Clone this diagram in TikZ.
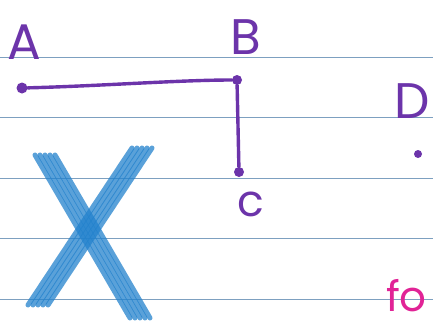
\documentclass[tikz,border=0pt]{standalone}
\usepackage{fontspec}
\setmainfont{Poppins}
\definecolor{penpurple}{RGB}{108,52,170}
\definecolor{penblue}{RGB}{35,130,205}
\definecolor{penpink}{RGB}{225,35,150}
\definecolor{ruled}{RGB}{125,160,192}
\tikzset{
  dot/.style={circle,fill=penpurple,inner sep=0pt,minimum size=11pt},
  label/.style={text=penpurple,font=\fontsize{50}{50}\selectfont,inner sep=0pt},
  pen/.style={draw=penpurple,line width=3.4pt,line cap=round},
  cross/.style={draw=penblue,line cap=round,line width=5pt,opacity=0.75}
}
\begin{document}
\begin{tikzpicture}[x=1pt,y=-1pt]
                \useasboundingbox (0,0) rectangle (433,329);
                \fill[white] (0,0) rectangle (433,329);
                % ruled lines of the page
                \foreach \y in {57,117,178,238,299}
                    \draw[ruled,line width=1pt] (0,\y) -- (433,\y);

                \node[dot] (a) at (22,88) {};
                \node[dot,minimum size=10pt] (b) at (237,80) {};
                \node[dot,minimum size=10pt] (c) at (239,172) {};
                \node[dot,minimum size=8pt] (d) at (418,154) {};

                \node[label] (la) at (24,42) {A};
                \node[label] (lb) at (246,37) {B};
                \node[label,font=\fontsize{44}{44}\selectfont] (lc) at (251,204) {c};
                \node[label,anchor=east] (ld) at (430,101) {D};
                \node[text=penpink,font=\fontsize{42}{42}\selectfont,inner sep=0pt,anchor=east] (fo) at (427,296) {fo};

                \draw[pen] (a) .. controls (100,86) and (180,80) .. (b);
                \draw[pen] (b) -- (c);

                % the blue X, drawn as bundles of strokes
                \foreach \dx in {-10,-5,0,5,10}
                    \draw[cross] (45+\dx,155) -- (140+\dx,318);
                \foreach \dx in {-10,-5,0,5,10}
                    \draw[cross] (142+\dx,148) -- (38+\dx,305);
            \end{tikzpicture}
\end{document}
